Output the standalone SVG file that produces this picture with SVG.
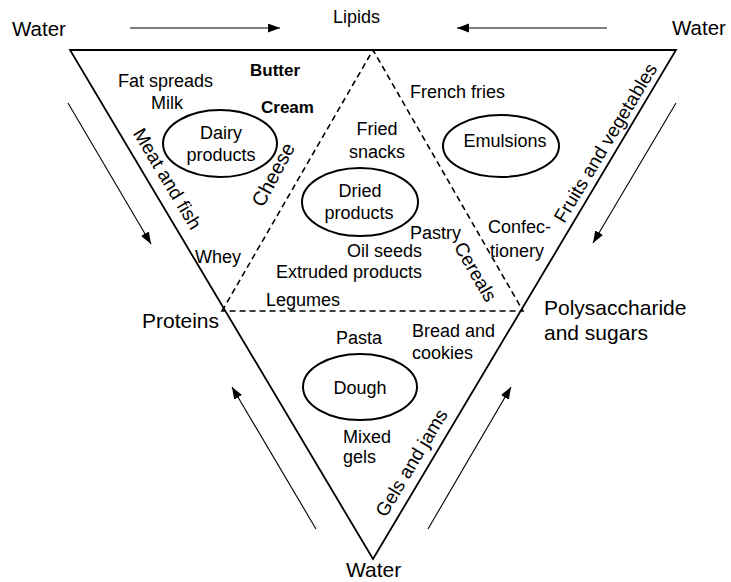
<svg xmlns="http://www.w3.org/2000/svg" width="731" height="582" viewBox="0 0 731 582">
<style>
text{font-family:"Liberation Sans",Arial,sans-serif;fill:#000}
.t{font-size:18px}
.r{font-size:19px}
.b{font-size:17px;font-weight:bold}
.c{font-size:21px}
.m{text-anchor:middle}
.node{fill:none;stroke:#000;stroke-width:2}
.edge{fill:none;stroke:#000;stroke-width:1.8}
.dash{fill:none;stroke:#000;stroke-width:1.6;stroke-dasharray:6 4}
.arr{fill:none;stroke:#000;stroke-width:1.1;marker-end:url(#ah)}
</style>
<defs>
<marker id="ah" markerUnits="userSpaceOnUse" markerWidth="13" markerHeight="10" refX="12" refY="4.5" orient="auto">
<path d="M0,0 L12,4.5 L0,9 z" fill="#000"/>
</marker>
</defs>
<rect width="731" height="582" fill="#fff"/>

<g id="triangle">
<path class="edge" d="M70,50 L676,50 L373,559 Z"/>
<path class="dash" d="M222,311 L373,50 L523,311 Z"/>
</g>

<g id="connectors">
<line class="arr" x1="130" y1="28" x2="280" y2="28"/>
<line class="arr" x1="607" y1="28" x2="457" y2="28"/>
<line class="arr" x1="68" y1="103" x2="151" y2="244"/>
<line class="arr" x1="676" y1="103" x2="593" y2="243"/>
<line class="arr" x1="316" y1="529" x2="232" y2="387"/>
<line class="arr" x1="428" y1="529" x2="511" y2="387"/>
</g>

<g id="corner-labels">
<text class="c" x="12" y="36" style="font-size:20.5px">Water</text>
<text class="c" x="672" y="35" style="font-size:20.5px">Water</text>
<text class="t" x="333" y="23">Lipids</text>
<text class="c" x="544" y="315">Polysaccharide</text>
<text class="c" x="544" y="340">and sugars</text>
<text class="c" x="142" y="328">Proteins</text>
<text class="c" x="346" y="577">Water</text>
</g>

<g id="dairy">
<ellipse class="node" cx="220" cy="143.5" rx="57" ry="33.5"/>
<text class="t m" x="221" y="139">Dairy</text>
<text class="t m" x="221" y="161">products</text>
</g>

<g id="dried">
<ellipse class="node" cx="360" cy="202" rx="58" ry="34"/>
<text class="t m" x="360" y="197">Dried</text>
<text class="t m" x="359" y="219">products</text>
</g>

<g id="emulsions">
<ellipse class="node" cx="501" cy="146" rx="58" ry="31"/>
<text class="t m" x="505" y="147">Emulsions</text>
</g>

<g id="dough">
<ellipse class="node" cx="360" cy="387" rx="57" ry="33"/>
<text class="t m" x="360" y="394">Dough</text>
</g>

<g id="labels">
<text class="t" x="118" y="87">Fat spreads</text>
<text class="t" x="151" y="109">Milk</text>
<text class="b" x="250" y="76">Butter</text>
<text class="b" x="261" y="113">Cream</text>
<text class="t" x="195" y="263">Whey</text>
<text class="t m" x="377" y="135">Fried</text>
<text class="t m" x="377" y="158">snacks</text>
<text class="t" x="410" y="239">Pastry</text>
<text class="t" x="347" y="257">Oil seeds</text>
<text class="t" x="276" y="278">Extruded products</text>
<text class="t" x="266" y="306">Legumes</text>
<text class="t" x="410" y="98">French fries</text>
<text class="t" x="488" y="233">Confec-</text>
<text class="t" x="490" y="257">tionery</text>
<text class="t" x="336" y="344">Pasta</text>
<text class="t" x="412" y="337">Bread and</text>
<text class="t" x="412" y="359">cookies</text>
<text class="t" x="343" y="443">Mixed</text>
<text class="t" x="343" y="463">gels</text>
<text class="r m" transform="translate(167,179) rotate(59)" y="6">Meat and fish</text>
<text class="r m" transform="translate(274,175) rotate(-62)" y="6" style="font-size:20px">Cheese</text>
<text class="r m" transform="translate(475,272) rotate(60)" y="6">Cereals</text>
<text class="r m" transform="translate(606,143) rotate(-59)" y="6">Fruits and vegetables</text>
<text class="r m" transform="translate(412,463) rotate(-59)" y="6">Gels and jams</text>
</g>
</svg>
